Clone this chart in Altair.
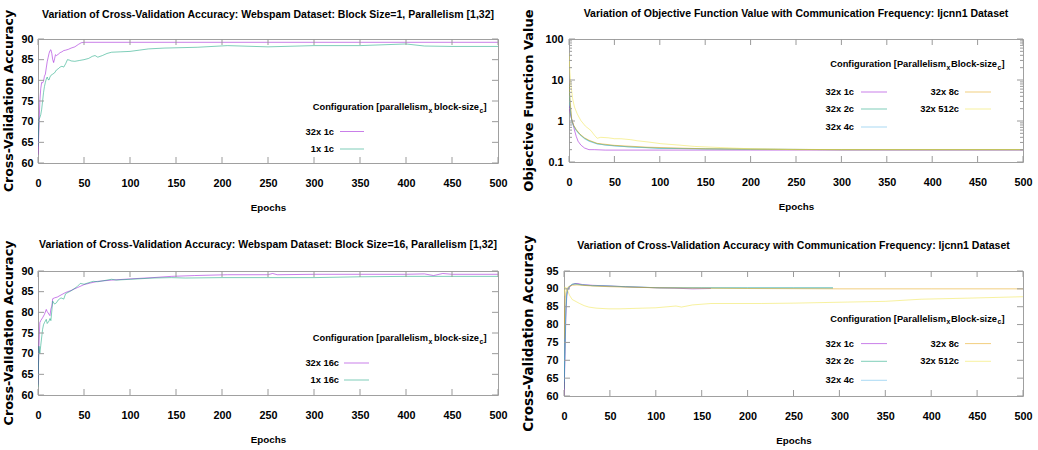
import altair as alt
import pandas as pd

SANS = "Liberation Sans"
WIDE = "DejaVu Sans"
TICK = "#9a9a9a"

# ---------------- tick values ----------------
epoch_ticks = [0, 50, 100, 150, 200, 250, 300, 350, 400, 450, 500]
acc_ticks_webspam = [60, 65, 70, 75, 80, 85, 90]
acc_ticks_ijcnn = [60, 65, 70, 75, 80, 85, 90, 95]
obj_ticks_major = [0.1, 1, 10, 100]
obj_ticks_minor = [0.2, 0.3, 0.4, 0.5, 0.6, 0.7, 0.8, 0.9,
                   2, 3, 4, 5, 6, 7, 8, 9,
                   20, 30, 40, 50, 60, 70, 80, 90]

# ---------------- panel 1: Webspam, block size 1 ----------------
p1_names = ["32x 1c", "1x 1c"]
p1_colors = ["#9400d3", "#009e73"]
p1_32x1c_epoch = [0, 1, 2, 3, 4, 5, 6, 7, 8, 9, 10, 11, 12, 13, 14, 15, 16, 17, 18, 19,
                  20, 22, 24, 26, 28, 30, 33, 36, 40, 44, 47, 50, 100, 200, 300, 400, 500]
p1_32x1c_acc = [62.0, 68.0, 75.0, 78.0, 79.5, 79.4, 79.8, 81.0, 81.5, 83.0, 84.5, 85.5, 86.5,
                87.2, 87.4, 86.5, 85.0, 84.3, 85.2, 86.2, 86.0, 86.3, 86.7, 86.9, 87.2, 87.3,
                87.5, 87.8, 88.1, 88.7, 89.1, 89.2, 89.2, 89.2, 89.2, 89.2, 89.2]
p1_1x1c_epoch = [0, 1, 2, 3, 4, 5, 6, 7, 8, 9, 10, 11, 12, 13, 14, 16, 18, 20, 22, 24, 26,
                 28, 30, 32, 34, 36, 40, 45, 50, 55, 59, 62, 65, 70, 75, 80, 90, 100, 110,
                 120, 137, 173, 206, 250, 300, 350, 400, 420, 450, 500]
p1_1x1c_acc = [64.0, 70.5, 71.0, 71.7, 73.0, 75.0, 77.0, 78.5, 79.5, 80.3, 80.8, 80.2, 80.1,
               80.8, 81.2, 81.5, 81.8, 82.5, 82.8, 83.2, 83.4, 83.2, 84.0, 85.0, 84.9, 84.7,
               84.6, 84.8, 85.0, 85.3, 85.8, 86.0, 85.6, 86.0, 86.5, 86.8, 86.9, 87.0, 87.3,
               87.6, 87.8, 88.0, 88.4, 88.1, 88.4, 88.4, 88.8, 88.3, 88.2, 88.2]

# ---------------- panel 2: ijcnn1 objective (log) ----------------
p2_names = ["32x 1c", "32x 2c", "32x 4c", "32x 8c", "32x 512c"]
p2_colors = ["#9400d3", "#009e73", "#56b4e9", "#e69f00", "#f0e442"]
p2_1c_epoch = [0, 2, 4, 6, 8, 10, 13, 17, 22, 28, 40, 100, 200, 300, 500]
p2_1c_obj = [2.4, 1.3, 0.94, 0.6, 0.42, 0.32, 0.26, 0.22, 0.2, 0.2, 0.195, 0.195, 0.195, 0.195, 0.195]
p2_2c_epoch = [0, 1, 2, 3, 5, 8, 12, 17, 22, 31, 40, 50, 65, 86, 100, 150, 200, 300, 400, 500]
p2_2c_obj = [8.0, 3.0, 1.5, 1.03, 0.78, 0.6, 0.47, 0.38, 0.33, 0.28, 0.26, 0.25, 0.235, 0.225,
             0.215, 0.21, 0.205, 0.2, 0.2, 0.2]
p2_4c_epoch = [0, 1, 3, 5, 8, 12, 17, 22, 31, 50, 86, 150, 300, 500]
p2_4c_obj = [6.0, 2.5, 1.0, 0.75, 0.58, 0.46, 0.37, 0.32, 0.275, 0.245, 0.222, 0.208, 0.2, 0.2]
p2_8c_epoch = [0, 1, 3, 5, 8, 12, 17, 22, 31, 50, 86, 150, 300, 500]
p2_8c_obj = [10.0, 3.5, 1.1, 0.8, 0.62, 0.48, 0.39, 0.34, 0.285, 0.255, 0.23, 0.21, 0.2, 0.2]
p2_512c_epoch = [0, 1, 2, 4, 6, 9, 13, 18, 24, 28, 31, 35, 43, 50, 57, 68, 75, 86, 101, 120,
                 138, 167, 200, 250, 500]
p2_512c_obj = [45.0, 15.0, 8.0, 3.5, 2.2, 1.5, 1.03, 0.75, 0.59, 0.45, 0.38, 0.4, 0.39, 0.37,
               0.37, 0.35, 0.33, 0.31, 0.28, 0.26, 0.24, 0.225, 0.21, 0.2, 0.2]

# ---------------- panel 3: Webspam, block size 16 ----------------
p3_names = ["32x 16c", "1x 16c"]
p3_colors = ["#9400d3", "#009e73"]
p3_32x16c_epoch = [0, 1, 2, 3, 5, 7, 9, 10, 12, 13, 14, 15, 16, 18, 21, 25, 30, 36, 43, 50,
                   57, 65, 80, 101, 125, 145, 170, 206, 250, 255, 260, 300, 350, 400, 420,
                   430, 440, 450, 500]
p3_32x16c_acc = [62.5, 72.0, 77.5, 78.0, 78.7, 79.5, 80.7, 80.2, 79.5, 79.2, 80.8, 81.5, 83.3,
                 83.5, 83.7, 84.2, 84.8, 85.3, 86.0, 86.7, 87.1, 87.5, 87.8, 88.1, 88.4, 88.7,
                 88.9, 89.1, 89.1, 89.4, 89.1, 89.2, 89.2, 89.2, 89.3, 88.9, 89.4, 89.2, 89.2]
p3_1x16c_epoch = [0, 1, 2, 3, 5, 6, 7, 9, 10, 12, 13, 14, 16, 18, 20, 22, 25, 28, 30, 36, 43,
                  46, 50, 57, 60, 65, 80, 85, 101, 125, 145, 160, 200, 300, 350, 400, 450, 500]
p3_1x16c_acc = [62.0, 71.8, 70.0, 72.0, 75.9, 77.0, 77.5, 78.3, 77.3, 77.9, 78.5, 78.0, 82.7,
                82.0, 82.3, 83.0, 83.5, 83.2, 84.5, 85.2, 86.3, 87.0, 86.8, 87.3, 87.5, 87.4,
                88.0, 87.8, 88.0, 88.3, 88.4, 88.3, 88.4, 88.4, 88.6, 88.7, 88.7, 88.7]

# ---------------- panel 4: ijcnn1 accuracy ----------------
p4_names = ["32x 1c", "32x 2c", "32x 4c", "32x 8c", "32x 512c"]
p4_colors = ["#9400d3", "#009e73", "#56b4e9", "#e69f00", "#f0e442"]
p4_1c_epoch = [0, 1, 2, 3, 4, 6, 9, 12, 15, 20, 31, 50, 67, 100, 120, 140, 160]
p4_1c_acc = [60.0, 70.0, 82.0, 88.0, 89.6, 90.5, 91.2, 91.5, 91.5, 91.2, 91.0, 90.8, 90.6,
             90.3, 90.2, 90.0, 90.1]
p4_2c_epoch = [0, 1, 2, 3, 4, 6, 9, 12, 15, 20, 31, 50, 67, 104, 150, 200, 250, 293]
p4_2c_acc = [62.0, 72.0, 84.0, 88.5, 89.8, 90.7, 91.3, 91.4, 91.3, 91.1, 90.9, 90.8, 90.6,
             90.3, 90.3, 90.3, 90.3, 90.3]
p4_4c_epoch = [0, 1, 2, 3, 4, 6, 9, 12, 20, 31, 50, 104, 200, 293]
p4_4c_acc = [64.0, 75.0, 85.0, 89.0, 90.0, 90.8, 91.2, 91.3, 91.1, 90.9, 90.7, 90.3, 90.2, 90.2]
p4_8c_epoch = [0, 1, 2, 3, 5, 9, 14, 20, 31, 50, 100, 150, 200, 300, 400, 500]
p4_8c_acc = [76.0, 86.0, 89.0, 90.0, 90.6, 91.0, 91.1, 91.0, 90.8, 90.6, 90.3, 90.2, 90.1,
             90.0, 90.0, 90.0]
p4_512c_epoch = [0, 1, 3, 6, 9, 12, 17, 22, 27, 35, 49, 60, 86, 100, 122, 128, 140, 160, 215,
                 250, 309, 350, 389, 440, 500]
p4_512c_acc = [88.0, 90.5, 90.2, 88.2, 87.0, 86.6, 85.9, 85.3, 84.9, 84.6, 84.4, 84.4, 84.6,
               84.7, 85.2, 84.9, 85.5, 85.9, 85.9, 86.0, 86.3, 86.5, 87.1, 87.4, 87.8]

ONE = pd.DataFrame({"k": [0]})

TITLE_SIZE = 10.5
TICK_SIZE = 10.8
XTITLE_SIZE = 9.8
LEG_SIZE = 9.3
SUB_SIZE = 6.8


def txt(s, x, y, size=LEG_SIZE, align="right", font=SANS, angle=0):
    return alt.Chart(ONE).mark_text(
        text=s, align=align, baseline="middle", font=font, fontSize=size,
        fontWeight="bold", color="black", angle=angle
    ).encode(x=alt.value(x), y=alt.value(y))


def panel(series, names, colors, title, title_y, ytitle, ytitle_x, ytitle_size,
          yscale, ymajor, yminor, W, H, ylabel_pad,
          leg_title, leg_p1, leg_p2, leg_ty, leg_entries):
    x_enc = alt.X("epoch:Q", scale=alt.Scale(domain=[0, 500], nice=False, zero=False),
                  axis=alt.Axis(values=epoch_ticks, ticks=False, domain=False, grid=False,
                                labelFont=SANS, labelFontSize=TICK_SIZE, labelFontWeight="bold",
                                labelColor="black", labelPadding=14, labelFlush=False,
                                title="Epochs", titleFont=SANS, titleFontSize=XTITLE_SIZE,
                                titleFontWeight="bold", titlePadding=15, titleColor="black"))
    y_enc = alt.Y("value:Q", scale=yscale,
                  axis=alt.Axis(values=ymajor, ticks=False, domain=False, grid=False,
                                format="~g", title=None,
                                labelFont=SANS, labelFontSize=TICK_SIZE, labelFontWeight="bold",
                                labelColor="black", labelPadding=ylabel_pad, labelFlush=False))
    layers = []
    for col, (ep, val) in zip(colors, series):
        df = pd.DataFrame({"epoch": ep, "value": val})
        layers.append(alt.Chart(df).mark_line(strokeWidth=1, color=col, opacity=0.5,
                                              clip=True).encode(x=x_enc, y=y_enc))

    xt = pd.DataFrame({"epoch": epoch_ticks})
    yt = pd.DataFrame({"value": ymajor})
    layers += [
        alt.Chart(xt).mark_rule(color=TICK, strokeWidth=1).encode(
            x=x_enc, y=alt.value(H), y2=alt.value(H - 6)),
        alt.Chart(xt).mark_rule(color=TICK, strokeWidth=1).encode(
            x=x_enc, y=alt.value(0), y2=alt.value(6)),
        alt.Chart(yt).mark_rule(color=TICK, strokeWidth=1).encode(
            y=y_enc, x=alt.value(0), x2=alt.value(6)),
        alt.Chart(yt).mark_rule(color=TICK, strokeWidth=1).encode(
            y=y_enc, x=alt.value(W), x2=alt.value(W - 6)),
    ]
    if yminor:
        ym = pd.DataFrame({"value": yminor})
        layers += [
            alt.Chart(ym).mark_rule(color=TICK, strokeWidth=1).encode(
                y=y_enc, x=alt.value(0), x2=alt.value(3)),
            alt.Chart(ym).mark_rule(color=TICK, strokeWidth=1).encode(
                y=y_enc, x=alt.value(W), x2=alt.value(W - 3)),
        ]
    # chart title and y title as text
    layers.append(txt(title, W / 2, title_y, size=TITLE_SIZE, align="center"))
    layers.append(txt(ytitle, ytitle_x, H / 2, size=ytitle_size, align="center",
                      font=WIDE, angle=270))
    # legend title with subscripts
    t1, t2 = leg_title
    layers += [
        txt(t1, leg_p1, leg_ty),
        txt("x", leg_p1 + 0.5, leg_ty + 3.5, size=SUB_SIZE, align="left"),
        txt(t2, leg_p2, leg_ty),
        txt("c", leg_p2 + 0.5, leg_ty + 3.5, size=SUB_SIZE, align="left"),
        txt("]", leg_p2 + 4.5, leg_ty, align="left"),
    ]
    for name, col, (tx, lx1, lx2, ly) in zip(names, colors, leg_entries):
        layers.append(txt(name, tx, ly))
        layers.append(alt.Chart(ONE).mark_rule(color=col, strokeWidth=1, opacity=0.5).encode(
            x=alt.value(lx1), x2=alt.value(lx2), y=alt.value(ly)))
    return alt.layer(*layers).properties(width=W, height=H)


lin_web = alt.Scale(domain=[60, 90], nice=False, zero=False)
lin_ij = alt.Scale(domain=[60, 95], nice=False, zero=False)
log_obj = alt.Scale(type="log", domain=[0.1, 100], nice=False)

A = panel([(p1_32x1c_epoch, p1_32x1c_acc), (p1_1x1c_epoch, p1_1x1c_acc)],
          p1_names, p1_colors,
          "Variation of Cross-Validation Accuracy: Webspam Dataset: Block Size=1, Parallelism [1,32]",
          -24.5, "Cross-Validation Accuracy", -28.7, 12.5,
          lin_web, acc_ticks_webspam, None, 460, 124, 5,
          ("Configuration [parallelism", "block-size"), 390, 441, 68,
          [(296, 302, 326, 92.5), (296, 302, 326, 110)])

B = panel([(p2_1c_epoch, p2_1c_obj), (p2_2c_epoch, p2_2c_obj), (p2_4c_epoch, p2_4c_obj),
           (p2_8c_epoch, p2_8c_obj), (p2_512c_epoch, p2_512c_obj)],
          p2_names, p2_colors,
          "Variation of Objective Function Value with Communication Frequency: Ijcnn1 Dataset",
          -25, "Objective Function Value", -39.7, 13,
          log_obj, obj_ticks_major, obj_ticks_minor, 454, 123, 6,
          ("Configuration [Parallelism", "Block-size"), 377, 428, 25,
          [(285, 292, 318, 53), (285, 292, 318, 70), (285, 292, 318, 88),
           (390, 396, 422, 53), (390, 396, 422, 70)])

C = panel([(p3_32x16c_epoch, p3_32x16c_acc), (p3_1x16c_epoch, p3_1x16c_acc)],
          p3_names, p3_colors,
          "Variation of Cross-Validation Accuracy: Webspam Dataset: Block Size=16, Parallelism [1,32]",
          -26.3, "Cross-Validation Accuracy", -28.7, 12.7,
          lin_web, acc_ticks_webspam, None, 460, 124, 5,
          ("Configuration [parallelism", "block-size"), 390, 441, 67,
          [(301, 306, 331, 92), (301, 306, 331, 109)])

D = panel([(p4_1c_epoch, p4_1c_acc), (p4_2c_epoch, p4_2c_acc), (p4_4c_epoch, p4_4c_acc),
           (p4_8c_epoch, p4_8c_acc), (p4_512c_epoch, p4_512c_acc)],
          p4_names, p4_colors,
          "Variation of Cross-Validation Accuracy with Communication Frequency: Ijcnn1 Dataset",
          -25, "Cross-Validation Accuracy", -34.7, 13.5,
          lin_ij, acc_ticks_ijcnn, None, 459, 125, 6,
          ("Configuration [Parallelism", "Block-size"), 382, 433, 47.6,
          [(290, 297, 323, 72.6), (290, 297, 323, 90.3), (290, 297, 323, 109.3),
           (395, 401, 427, 72.6), (395, 401, 427, 90.3)])

row1 = alt.hconcat(A, B, spacing=71, bounds="flush")
row2 = alt.hconcat(C, D, spacing=66, bounds="flush")
chart = alt.vconcat(row1, row2, spacing=20).properties(
    padding={"left": 2, "top": 8, "right": 2, "bottom": 0},
    background="white",
).configure_view(stroke="#a0a0a0", strokeWidth=1)

chart.save("out.html", embed_options={"renderer": "svg", "actions": False})
